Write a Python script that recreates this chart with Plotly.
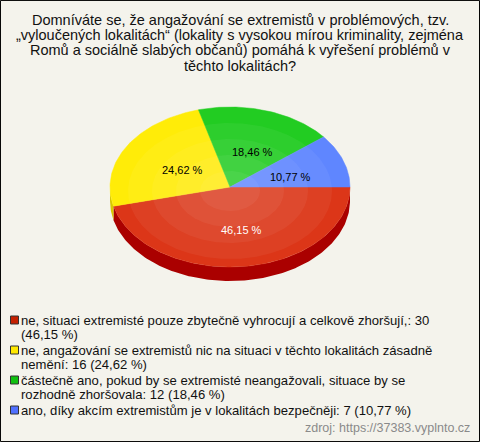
import textwrap
import numpy as np
import plotly.graph_objects as go

# Data
title_lines = [
    "Domníváte se, že angažování se extremistů v problémových, tzv.",
    "„vyloučených lokalitách“ (lokality s vysokou mírou kriminality, zejména",
    "Romů a sociálně slabých občanů) pomáhá k vyřešení problémů v",
    "těchto lokalitách?",
]
labels = [
    "ne, situaci extremisté pouze zbytečně vyhrocují a celkově zhoršují,",
    "ne, angažování se extremistů nic na situaci v těchto lokalitách zásadně nemění",
    "částečně ano, pokud by se extremisté neangažovali, situace by se rozhodně zhoršovala",
    "ano, díky akcím extremistům je v lokalitách bezpečněji",
]
counts = [30, 16, 12, 7]
source = "zdroj: https://37383.vyplnto.cz"

top_colors = ["#dc3618", "#ffec08", "#22cc22", "#5f86ff"]
side_colors = ["#aa0000", "#d8c800", "#10a010", "#3050d0"]
key_colors = ["#c42000", "#ffe800", "#10c010", "#5070ff"]
label_colors = ["white", "black", "black", "black"]

total = sum(counts)
pcts = [c * 100 / total for c in counts]

def fmt(p):
    return f"{p:.2f}".replace(".", ",") + " %"

# pie geometry (pixels)
CX, CY, RX, RY, DEPTH = 230, 187, 120, 80, 14
BG = "#f4f3ec"
FONT = "Liberation Sans, Arial, sans-serif"

def arc(a0, a1, dy=0, k=1.0):
    t = np.radians(np.linspace(a0, a1, max(int(abs(a1 - a0)), 2) + 1))
    return CX + k * RX * np.cos(t), CY + k * RY * np.sin(t) + dy

fig = go.Figure()

# angles clockwise from 3 o'clock
bounds = np.concatenate([[0], np.cumsum(pcts) * 3.6])

# sides (front half only)
for i in range(len(counts)):
    a0, a1 = max(bounds[i], 0), min(bounds[i + 1], 180)
    if a1 <= a0:
        continue
    xt, yt = arc(a0, a1)
    xb, yb = arc(a1, a0, DEPTH)
    fig.add_trace(go.Scatter(x=np.concatenate([xt, xb, xt[:1]]), y=np.concatenate([yt, yb, yt[:1]]),
                             fill="toself", fillcolor=side_colors[i], mode="lines",
                             line=dict(width=0, color=side_colors[i]), hoverinfo="skip"))

# top faces
for i in range(len(counts)):
    xa, ya = arc(bounds[i], bounds[i + 1])
    fig.add_trace(go.Scatter(x=np.concatenate([[CX], xa, [CX]]), y=np.concatenate([[CY], ya, [CY]]),
                             fill="toself", fillcolor=top_colors[i], mode="lines",
                             line=dict(width=0.5, color=top_colors[i]), hoverinfo="skip"))

# soft highlight
for k in [0.85, 0.65, 0.45, 0.25]:
    xa, ya = arc(0, 360, 4, k)
    fig.add_trace(go.Scatter(x=xa, y=ya, fill="toself", fillcolor="rgba(255,255,255,0.05)",
                             mode="lines", line=dict(width=0), hoverinfo="skip"))

# percent labels
for i in range(len(counts)):
    mid = np.radians((bounds[i] + bounds[i + 1]) / 2)
    fig.add_annotation(x=CX + 4 + 0.5 * RX * np.cos(mid), y=CY + 3 + 0.5 * RY * np.sin(mid),
                       text=fmt(pcts[i]), showarrow=False,
                       font=dict(family=FONT, size=11, color=label_colors[i]))

# title
for j, line in enumerate(title_lines):
    fig.add_annotation(x=240, y=20 + j * 15.2, text=line, showarrow=False, xanchor="center",
                       font=dict(family=FONT, size=14.5, color="#111"))

# legend
y = 320
for i in range(len(counts)):
    text = f"{labels[i]}: {counts[i]} ({fmt(pcts[i])})"
    lines = textwrap.wrap(text, 72)
    fig.add_shape(type="rect", x0=10.5, x1=18.5, y0=y - 4, y1=y + 4,
                  fillcolor=key_colors[i], line=dict(color="#333", width=1))
    for j, line in enumerate(lines):
        fig.add_annotation(x=19, y=y + j * 14, text=line, showarrow=False, xanchor="left",
                           font=dict(family=FONT, size=13.1, color="#111"))
    y += 14 * len(lines) + 2

fig.add_annotation(x=472, y=428, text=source, showarrow=False, xanchor="right",
                   font=dict(family=FONT, size=12.5, color="#8a8a8a"))

fig.add_shape(type="rect", xref="paper", yref="paper", x0=0.001, x1=0.999, y0=0.001, y1=0.999,
              line=dict(color="black", width=1))

fig.update_xaxes(range=[0, 480], visible=False, fixedrange=True)
fig.update_yaxes(range=[442, 0], visible=False, fixedrange=True)
fig.update_layout(width=480, height=442, margin=dict(l=0, r=0, t=0, b=0),
                  paper_bgcolor=BG, plot_bgcolor=BG, showlegend=False)

fig.write_html("out.html", config={"displayModeBar": False},
               post_script="document.body.style.margin='0';document.body.style.overflow='hidden';")
